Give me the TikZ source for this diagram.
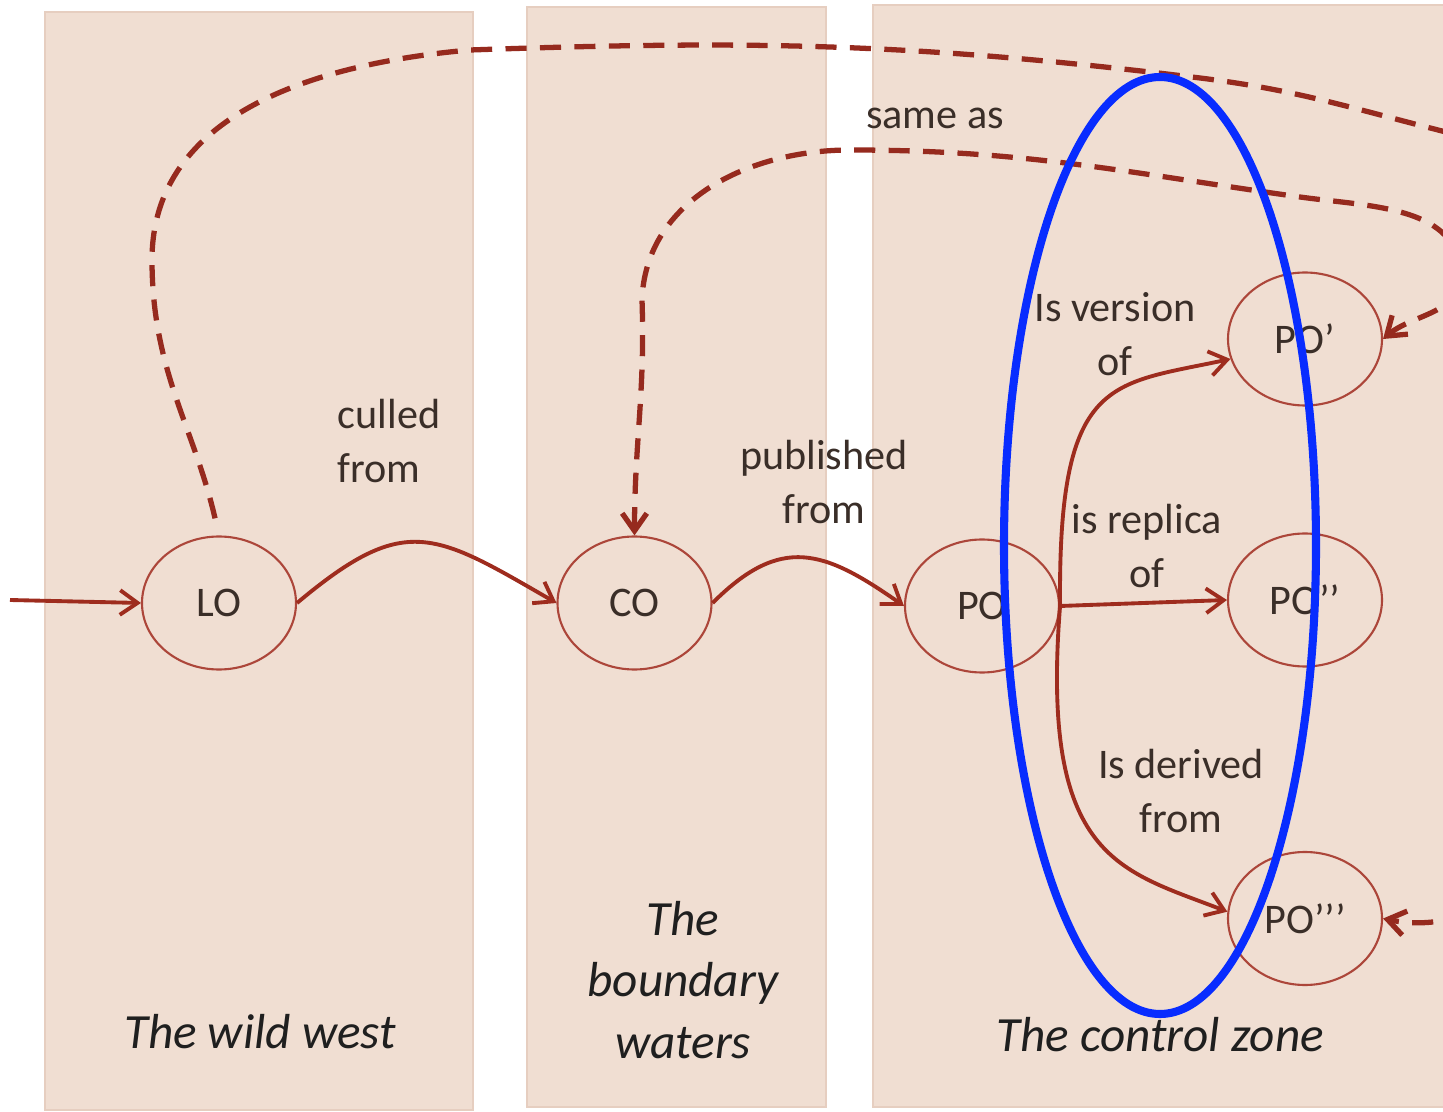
\documentclass[tikz,border=0pt]{standalone}
\usepackage{fontspec}
\setmainfont{Carlito}
\usepackage{tikz}
\usetikzlibrary{arrows.meta,shapes.geometric}

\definecolor{zonefill}{RGB}{240,222,210}
\definecolor{zoneedge}{RGB}{230,206,192}
\definecolor{linkred}{RGB}{158,44,30}
\definecolor{dashred}{RGB}{150,42,30}
\definecolor{ringred}{RGB}{172,70,58}
\definecolor{inktext}{RGB}{58,46,40}
\definecolor{hiblue}{RGB}{8,44,255}

\begin{document}
\begin{tikzpicture}[
    zone/.style={fill=zonefill, draw=zoneedge, line width=0.8pt},
    obj/.style={ellipse, draw=ringred, line width=0.6pt, minimum width=1.54cm,
                minimum height=1.33cm, inner sep=0pt, text=inktext,
                font=\fontsize{12}{14}\selectfont},
    rel/.style={align=center, text=inktext, font=\fontsize{12}{15.2}\selectfont},
    ztitle/.style={align=center, text=black!88, font=\fontsize{14}{17.6}\selectfont\itshape},
    arr/.style={-{Straight Barb[length=5pt,width=7pt]}, line width=1.1pt, color=linkred},
    samearr/.style={dash pattern=on 6pt off 3.8pt, line width=1.5pt, color=dashred},
    hilite/.style={draw=hiblue, line width=2.3pt},
]
\useasboundingbox (0,0) rectangle (14.43,-11.12);
\clip (0,0) rectangle (14.43,-11.12);

% ── Zones ─────────────────────────────────────────────
\path[zone] (0.45,-0.12) rectangle (4.73,-11.10);
\path[zone] (5.27,-0.07) rectangle (8.26,-11.07);
\path[zone] (8.73,-0.05) rectangle (14.80,-11.07);

\node[ztitle] (wild)     at (2.60,-10.32) {The wild west};
\node[ztitle] (boundary) at (6.83,-9.80)  {The\\boundary\\waters};
\node[ztitle] (control)  at (11.60,-10.35) {The control zone};

% ── Objects ───────────────────────────────────────────
\coordinate (src) at (0.10,-6.00);
\node[obj] (lo)  at (2.19,-6.03)  {LO};
\node[obj] (co)  at (6.345,-6.03) {CO};
\node[obj] (po)  at (9.82,-6.06)  {PO};
\node[obj] (po1) at (13.05,-3.39) {PO’};
\node[obj] (po2) at (13.05,-6.00) {PO’’};
\node[obj] (po3) at (13.05,-9.185) {PO’’’};

% ── Relation labels ───────────────────────────────────
\node[rel, align=left] (culled) at (3.89,-4.41) {culled\\from};
\node[rel] (published) at (8.24,-4.82)  {published\\from};
\node[rel] (same)      at (9.35,-1.18)  {same as};
\node[rel] (version)   at (11.15,-3.34) {Is version\\of};
\node[rel] (replica)   at (11.47,-5.46) {is replica\\of};
\node[rel] (derived)   at (11.81,-7.91) {Is derived\\from};

% ── Main flow ─────────────────────────────────────────
\draw[arr] (src) -- (lo.west);
\draw[arr] (lo.east) to[out=40,in=150,looseness=1.4] (co.west);
\draw[arr] (co.east) to[out=45,in=145,looseness=1.3] (po.west);

% ── PO fan-out ────────────────────────────────────────
\draw[arr] (po.east) .. controls (10.58,-3.75) and (11.1,-3.85) .. (po1.195);
\draw[arr] (po.east) -- (po2.west);
\draw[arr] (po.east) .. controls (10.40,-8.6) and (11.2,-8.7) .. (po3.175);

% ── same-as links (dashed, run off the right edge) ────
\draw[samearr, shorten <=5pt, -{Straight Barb[length=5pt,width=7pt]}]
    (lo.north) to[out=103,in=-90] (1.52,-2.6)
    to[out=90,in=185] (4.7,-0.5)
    to[out=2,in=173] (12.0,-0.78)
    to[out=-7,in=166] (14.5,-1.33)
    to[out=-14,in=90] (15.6,-4.5) -- (15.6,-8.0)
    to[out=-90,in=-12] (po3.east);
\draw[samearr, {Straight Barb[length=5pt,width=7pt]}-{Straight Barb[length=5pt,width=7pt]}]
    (co.north) to[out=90,in=-88] (6.42,-3.0)
    to[out=88,in=180] (8.5,-1.5)
    to[out=0,in=172] (13.0,-1.97)
    to[out=-8,in=90] (14.6,-2.75)
    to[out=-90,in=40] (po1.east);

% ── Highlight ring ────────────────────────────────────
\draw[hilite] (11.6,-5.455) ellipse [x radius=1.56, y radius=4.685];

\end{tikzpicture}
\end{document}
